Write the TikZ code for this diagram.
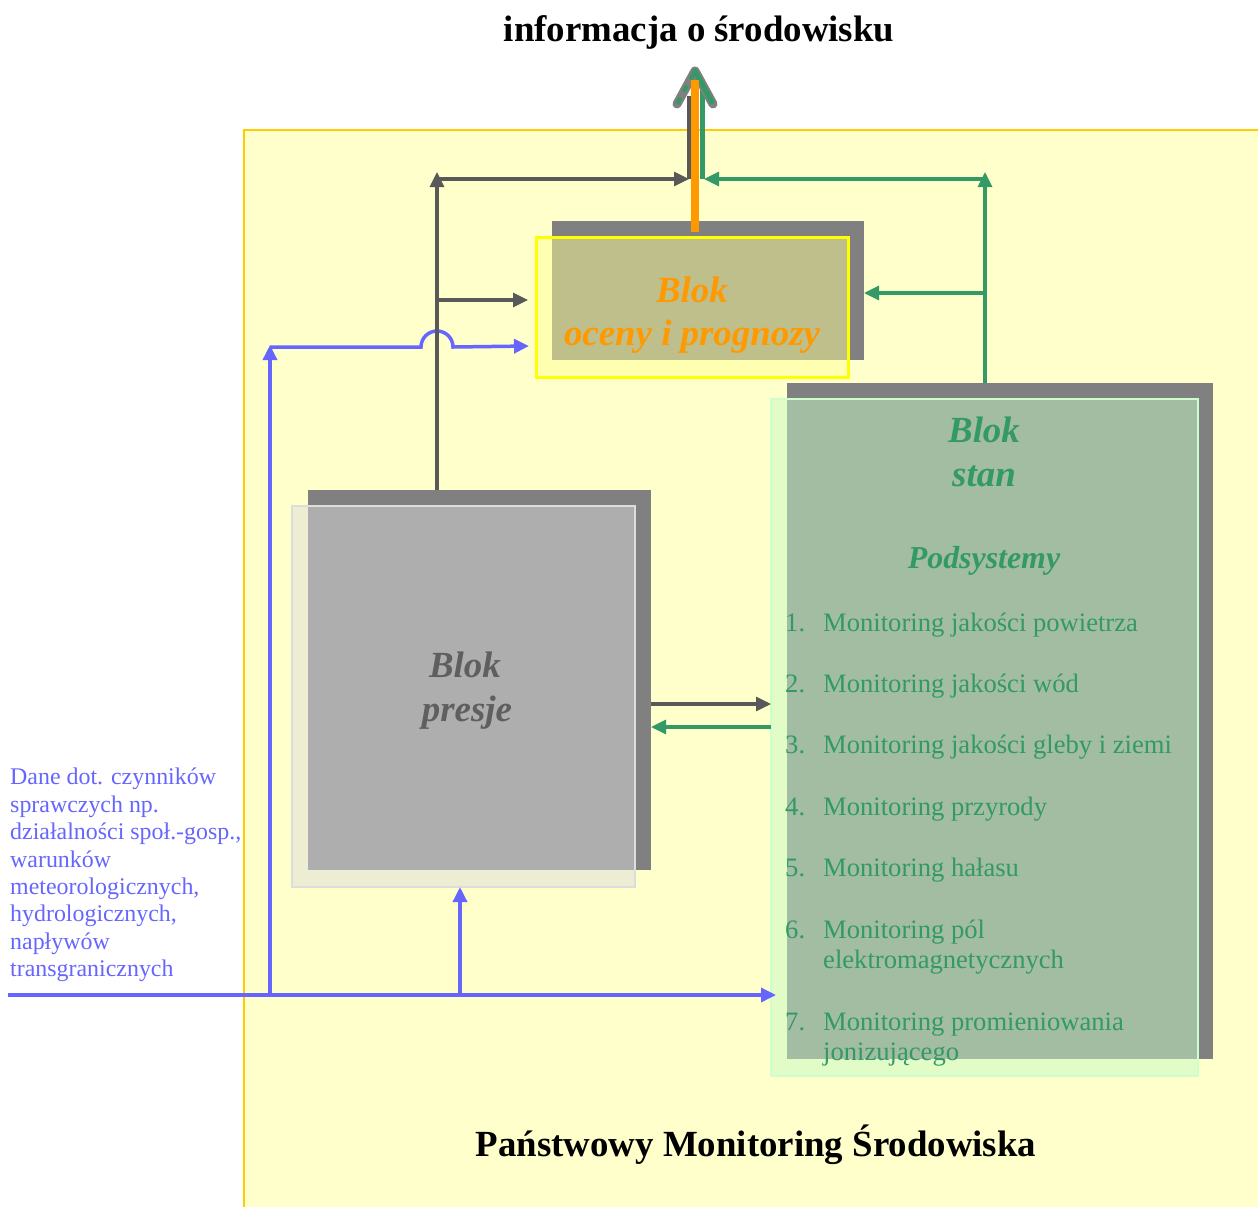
\documentclass[tikz,border=0pt]{standalone}
\usepackage{fontspec}
\setmainfont{Liberation Serif}
\usetikzlibrary{arrows.meta}

\definecolor{panel}{HTML}{FFFFCC}
\definecolor{panelrim}{HTML}{FFCC00}
\definecolor{shadowgray}{HTML}{808080}
\definecolor{ocenafill}{RGB}{255,255,152}
\definecolor{ocenarim}{HTML}{FFFF00}
\definecolor{presjefill}{RGB}{220,220,220}
\definecolor{presjerim}{HTML}{DDDDDD}
\definecolor{stanfill}{RGB}{196,250,196}
\definecolor{stanrim}{HTML}{CCFFCC}
\definecolor{darkline}{HTML}{595959}
\definecolor{greenline}{HTML}{339966}
\definecolor{blueline}{HTML}{6666FF}
\definecolor{orangeline}{HTML}{FF9900}
\definecolor{presjetext}{HTML}{5F5F5F}

\tikzset{
  tip/.style={-{Triangle[length=15bp,width=14bp]}},
  darkarrow/.style={tip, draw=darkline, line width=3.2bp},
  greenarrow/.style={tip, draw=greenline, line width=3.2bp},
  bluearrow/.style={tip, draw=blueline, line width=3.5bp},
  blocktitle/.style={font=\fontsize{37}{44}\selectfont\bfseries\itshape, anchor=base, inner sep=0},
  headline/.style={font=\fontsize{37}{44}\selectfont\bfseries, anchor=base, inner sep=0},
  listnum/.style={font=\fontsize{26.7}{30}\selectfont, text=greenline, anchor=base west, inner sep=0},
}

\begin{document}
\begin{tikzpicture}[x=1bp,y=-1bp]
\useasboundingbox (0,0) rectangle (1258,1207);
\fill[white] (0,0) rectangle (1258,1207);

% system panel
\draw[fill=panel, draw=panelrim, line width=2bp] (244,130) rectangle (1264,1213);

% headings
\node[headline] (title) at (699,41) {informacja o środowisku};
\node[headline] (footer) at (756,1156) {Państwowy Monitoring Środowiska};

% block: oceny i prognozy
\fill[shadowgray] (552,221) rectangle (864,360);
\draw[fill=ocenafill, fill opacity=0.5, draw=ocenarim, line width=3bp] (536,237) rectangle (848,377);
\node[blocktitle, text=orangeline] (ocenaA) at (692,302) {Blok};
\node[blocktitle, text=orangeline] (ocenaB) at (692,345) {oceny i prognozy};

% block: presje
\fill[shadowgray] (308,490) rectangle (651,870);
\draw[fill=presjefill, fill opacity=0.5, draw=presjerim, line width=2.5bp] (292,506) rectangle (635,887);
\node[blocktitle, text=presjetext] (presjeA) at (465,677) {Blok};
\node[blocktitle, text=presjetext] (presjeB) at (467,721) {presje};

% block: stan
\fill[shadowgray] (787,383) rectangle (1213,1059);
\draw[fill=stanfill, fill opacity=0.5, draw=stanrim, line width=2.5bp] (771,399) rectangle (1198,1076);
\node[blocktitle, text=greenline] (stanA) at (984,442) {Blok};
\node[blocktitle, text=greenline] (stanB) at (984,486) {stan};
\node[font=\fontsize{32}{38}\selectfont\bfseries\itshape, text=greenline, anchor=base, inner sep=0] (podsys) at (984,568) {Podsystemy};

% list of subsystems
\node[listnum] (n1) at (785,631) {1.};
\node[listnum] (t1) at (823,631) {Monitoring jakości powietrza};
\node[listnum] (n2) at (785,692) {2.};
\node[listnum] (t2) at (823,692) {Monitoring jakości wód};
\node[listnum] (n3) at (785,753) {3.};
\node[listnum] (t3) at (823,753) {Monitoring jakości gleby i ziemi};
\node[listnum] (n4) at (785,815) {4.};
\node[listnum] (t4) at (823,815) {Monitoring przyrody};
\node[listnum] (n5) at (785,876) {5.};
\node[listnum] (t5) at (823,876) {Monitoring hałasu};
\node[listnum] (n6) at (785,938) {6.};
\node[listnum] (t6) at (823,938) {Monitoring pól};
\node[listnum] (t6b) at (823,968) {elektromagnetycznych};
\node[listnum] (n7) at (785,1030) {7.};
\node[listnum] (t7) at (823,1030) {Monitoring promieniowania};
\node[listnum] (t7b) at (823,1060) {jonizującego};

% driving-force data
\node[font=\fontsize{24}{27.5}\selectfont, text=blueline, align=left, anchor=north west, inner sep=0] (dane) at (10,768)
  {Dane dot. czynników\\sprawczych np.\\działalności społ.-gosp.,\\warunków\\meteorologicznych,\\hydrologicznych,\\napływów\\transgranicznych};

% junction points
\coordinate (blueStart) at (8,995);
\coordinate (blueJ1) at (270,995);
\coordinate (blueJ2) at (460,995);
\coordinate (blueEnd) at (776,995);
\coordinate (blueUp) at (270,345);
\coordinate (blueCorner) at (270,347);
\coordinate (presjeIn) at (460,887);
\coordinate (ocenaInBlue) at (529,346);
\coordinate (presjeTop) at (437,490);
\coordinate (grayUp) at (437,172);
\coordinate (grayCorner) at (437,179);
\coordinate (grayMid) at (437,300);
\coordinate (grayOut) at (689,179);
\coordinate (ocenaInGray) at (528,300);
\coordinate (stanTop) at (985,383);
\coordinate (greenUp) at (985,172);
\coordinate (greenCorner) at (985,179);
\coordinate (greenMid) at (985,293);
\coordinate (greenOut) at (704,179);
\coordinate (ocenaInGreen) at (864,293);
\coordinate (presjeRightA) at (651,704);
\coordinate (stanLeftA) at (771,704);
\coordinate (stanLeftB) at (771,727);
\coordinate (presjeRightB) at (651,727);

% blue connectors
\draw[bluearrow] (blueStart) -- (blueEnd);
\draw[bluearrow] (blueJ2) -- (presjeIn);
\draw[bluearrow] (blueJ1) -- (blueUp);
\draw[bluearrow] (blueCorner) -- (421,347) arc[start angle=180, end angle=360, radius=16] -- (ocenaInBlue);

% gray connectors
\draw[darkarrow] (presjeTop) -- (grayUp);
\draw[darkarrow] (grayCorner) -- (grayOut);
\draw[darkarrow] (grayMid) -- (ocenaInGray);
\draw[darkarrow] (presjeRightA) -- (stanLeftA);

% green connectors
\draw[greenarrow] (stanTop) -- (greenUp);
\draw[greenarrow] (greenCorner) -- (greenOut);
\draw[greenarrow] (greenMid) -- (ocenaInGreen);
\draw[greenarrow] (stanLeftB) -- (presjeRightB);

% output arrow
\draw[darkline, line width=5bp] (689,179) -- (689,96);
\draw[greenline, line width=5bp] (702,179) -- (702,88);
\draw[shadowgray, line width=9bp, line cap=round, line join=round] (677,104) -- (695,71) -- (713,104);
\draw[greenline, line width=4bp, dash pattern=on 7bp off 7bp] (677,104) -- (695,71);
\draw[greenline, line width=5bp, line cap=round] (695,71) -- (712,102);
\draw[orangeline, line width=8bp] (695,232) -- (695,80);
\end{tikzpicture}
\end{document}
